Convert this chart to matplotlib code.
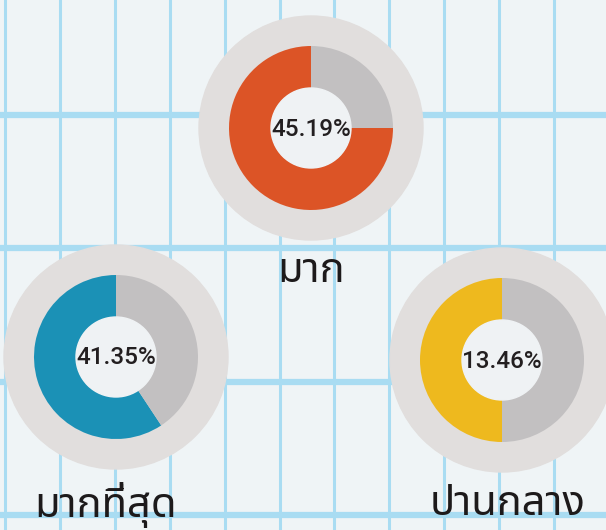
import matplotlib
matplotlib.use("Agg")
import matplotlib.pyplot as plt
import numpy as np

# survey levels and their shares
labels = ["มาก", "มากที่สุด", "ปานกลาง"]
percents = [45.19, 41.35, 13.46]
# share of each ring that is coloured, as drawn in the picture
ring_fill = [75.0, 59.3, 50.0]
colors = ["#dc5426", "#1b91b6", "#eeb91e"]

W, H = 606, 530
centers = [(311, H - 128), (116, H - 357), (502, H - 360)]
label_pos = [(311, H - 282), (106, H - 517), (508, H - 515)]

bg = "#eff4f6"
grid = "#a9dcf2"

fig = plt.figure(figsize=(W / 100, H / 100), dpi=100, facecolor=bg)
ax = fig.add_axes([0, 0, 1, 1])
ax.set_facecolor(bg)

# graph paper background
for x in np.arange(5, W, 54.9):
    ax.axvline(x, color=grid, lw=2.2, zorder=0)
for y in np.arange(15, H, 133.4):
    ax.axhline(y, color=grid, lw=4.5, zorder=0)

for i in range(3):
    cx, cy = centers[i]
    ax.add_patch(plt.Circle((cx, cy), 112, color="#e1dedd", zorder=1))
    wedges, _ = ax.pie(
        [ring_fill[i], 100 - ring_fill[i]],
        colors=[colors[i], "#c2c0c1"],
        startangle=90,
        center=(cx, cy),
        radius=82,
        frame=True,
        wedgeprops=dict(width=42, linewidth=0),
    )
    for w in wedges:
        w.set_zorder(2)
    ax.add_patch(plt.Circle((cx, cy), 40, color="#eff2f4", zorder=3))
    ax.text(cx, cy - 1, f"{percents[i]:.2f}%", ha="center", va="center",
            fontsize=17.5, family="Roboto", weight="medium",
            color="#231f20", zorder=4)
    lx, ly = label_pos[i]
    ax.text(lx, ly, labels[i], ha="center", va="baseline", fontsize=30,
            family="Noto Sans Thai", color="#1d1a1b", zorder=4)

ax.set_xlim(0, W)
ax.set_ylim(0, H)
ax.set_aspect("equal")
ax.axis("off")

fig.savefig("out.png", dpi=100, facecolor=bg)
